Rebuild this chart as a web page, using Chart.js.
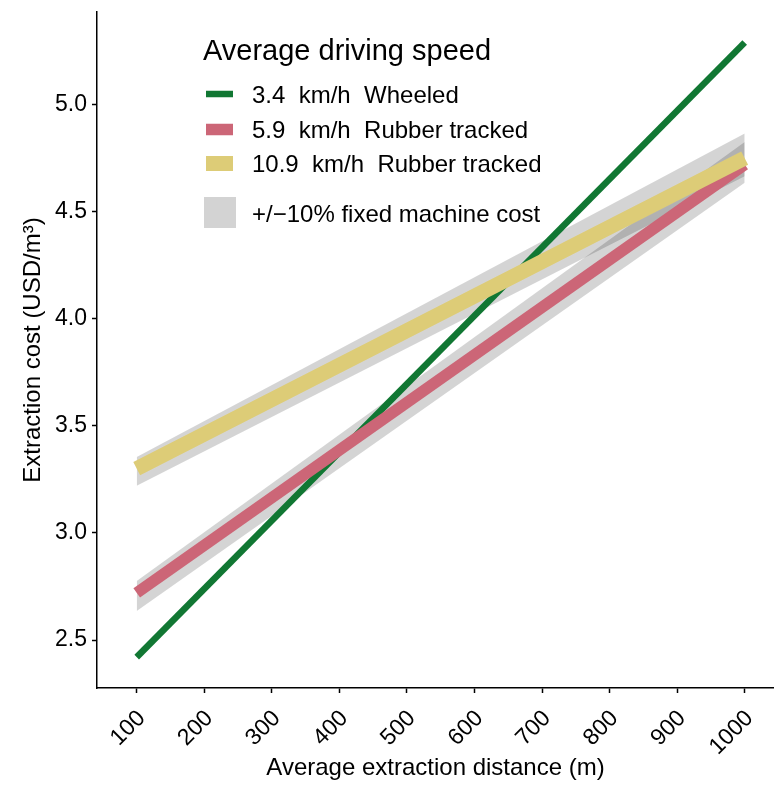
<!DOCTYPE html>
<html>
<head>
<meta charset="utf-8">
<title>Extraction cost by distance</title>
<script src="https://cdn.jsdelivr.net/npm/chart.js@4"></script>
<style>
  html, body { margin: 0; padding: 0; background: #fff; }
  #chart { display: block; }
</style>
</head>
<body>
<canvas id="chart" width="774" height="785"></canvas>
<script>
// distances (m) where each cost line starts and ends
const distance = [100, 1000];

// extraction cost (USD/m3)
const wheeled34 = [2.42, 5.29];
const rubber59 = [2.72, 4.72];
const rubber109 = [3.30, 4.75];

// +/-10% fixed machine cost
const rubber59Low = [2.635, 4.635];
const rubber59High = [2.775, 4.825];
const rubber109Low = [3.22, 4.665];
const rubber109High = [3.355, 4.865];

const xTicks = [100, 200, 300, 400, 500, 600, 700, 800, 900, 1000];
const yTicks = [2.5, 3.0, 3.5, 4.0, 4.5, 5.0];

const seriesLabels = ['3.4  km/h  Wheeled', '5.9  km/h  Rubber tracked', '10.9  km/h  Rubber tracked'];
const seriesColors = ['#117733', '#CC6677', '#DDCC77'];
const seriesWidths = [6.5, 11.5, 15];
const bandLabel = '+/\u221210% fixed machine cost';
const legendTitle = 'Average driving speed';

const bandColor = 'rgba(0, 0, 0, 0.17)';
const FONT = '"Liberation Sans", Arial, sans-serif';

function points(ys) {
    return distance.map((d, i) => ({ x: d, y: ys[i] }));
}

function bandEdge(ys, fill, order) {
    return {
        data: points(ys),
        borderWidth: 0,
        pointRadius: 0,
        backgroundColor: bandColor,
        fill: fill,
        order: order
    };
}

function costLine(i, ys, order) {
    return {
        label: seriesLabels[i],
        data: points(ys),
        borderColor: seriesColors[i],
        backgroundColor: seriesColors[i],
        borderWidth: seriesWidths[i],
        borderCapStyle: 'butt',
        pointRadius: 0,
        fill: false,
        order: order
    };
}

// legend drawn straight onto the canvas, top-left inside the plot
const keyLegend = {
    id: 'keyLegend',
    afterDraw(chart) {
        const ctx = chart.ctx;
        ctx.save();
        ctx.fillStyle = '#000';
        ctx.textBaseline = 'alphabetic';
        ctx.textAlign = 'left';
        ctx.font = '29px ' + FONT;
        ctx.fillText(legendTitle, 203, 60);

        const rowY = [94, 129.5, 163.5];
        const textY = [103, 138, 172];
        ctx.font = '24px ' + FONT;
        for (let i = 0; i < seriesLabels.length; i++) {
            ctx.fillStyle = seriesColors[i];
            ctx.fillRect(206, rowY[i] - seriesWidths[i] / 2, 27, seriesWidths[i]);
            ctx.fillStyle = '#000';
            ctx.fillText(seriesLabels[i], 252, textY[i]);
        }
        ctx.fillStyle = '#d3d3d3';
        ctx.fillRect(204, 197, 32, 31);
        ctx.fillStyle = '#000';
        ctx.fillText(bandLabel, 252, 221.5);
        ctx.restore();
    }
};

const ctx = document.getElementById('chart').getContext('2d');

new Chart(ctx, {
    type: 'line',
    data: {
        datasets: [
            bandEdge(rubber59Low, false, 7),
            bandEdge(rubber59High, '-1', 6),
            bandEdge(rubber109Low, false, 5),
            bandEdge(rubber109High, '-1', 4),
            costLine(0, wheeled34, 3),
            costLine(1, rubber59, 2),
            costLine(2, rubber109, 1)
        ]
    },
    options: {
        responsive: false,
        animation: false,
        layout: { padding: { top: 12, right: 0, left: 0, bottom: 0 } },
        plugins: {
            legend: { display: false },
            tooltip: { enabled: false },
            filler: { drawTime: 'beforeDatasetsDraw' }
        },
        scales: {
            x: {
                type: 'linear',
                min: 41.2,
                max: 1043.4,
                afterBuildTicks: scale => { scale.ticks = xTicks.map(v => ({ value: v })); },
                afterFit: scale => {
                    scale.height = 97;
                    scale.paddingLeft = 0;
                    scale.paddingRight = 0;
                },
                border: { display: true, color: '#000', width: 1.5 },
                grid: { display: true, drawOnChartArea: false, drawTicks: true, tickLength: 5, color: '#000', tickWidth: 1.5 },
                ticks: {
                    minRotation: 45,
                    maxRotation: 45,
                    padding: 12,
                    labelOffset: 5,
                    color: '#000',
                    font: { family: FONT, size: 23 },
                    callback: v => String(v)
                },
                title: {
                    display: true,
                    text: 'Average extraction distance (m)',
                    color: '#000',
                    font: { family: FONT, size: 24 },
                    padding: 2
                }
            },
            y: {
                type: 'linear',
                min: 2.276,
                max: 5.432,
                afterBuildTicks: scale => { scale.ticks = yTicks.map(v => ({ value: v })); },
                afterFit: scale => {
                    scale.width = 97;
                    scale.paddingTop = 0;
                    scale.paddingBottom = 0;
                },
                border: { display: true, color: '#000', width: 1.5 },
                grid: { display: true, drawOnChartArea: false, drawTicks: true, tickLength: 5, color: '#000', tickWidth: 1.5 },
                ticks: {
                    padding: 5,
                    color: '#000',
                    font: { family: FONT, size: 23 },
                    callback: v => v.toFixed(1)
                },
                title: {
                    display: true,
                    text: 'Extraction cost (USD/m\u00b3)',
                    color: '#000',
                    font: { family: FONT, size: 24 },
                    padding: 19
                }
            }
        }
    },
    plugins: [keyLegend]
});
</script>
</body>
</html>
